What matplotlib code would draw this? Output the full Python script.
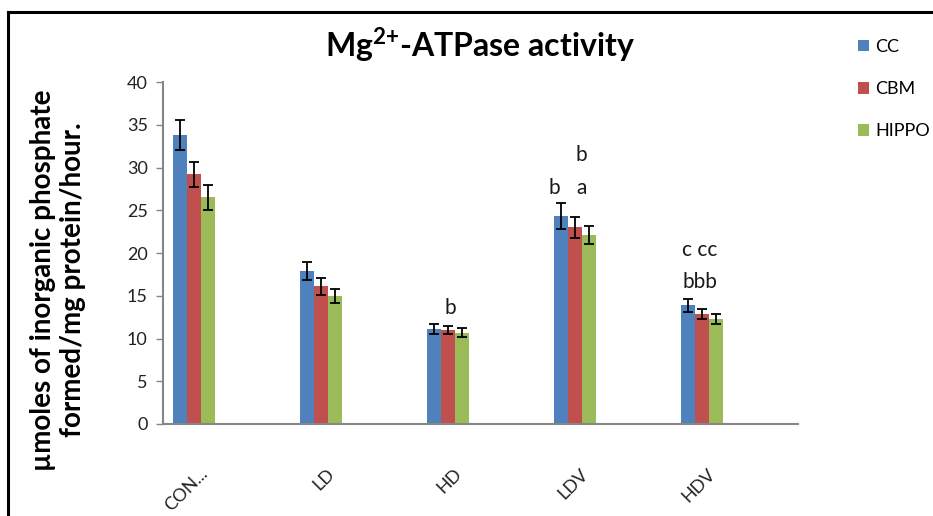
import matplotlib

matplotlib.use("Agg")
import matplotlib.pyplot as plt
import numpy as np
from matplotlib.lines import Line2D
from matplotlib.patches import Patch

plt.rcParams["font.family"] = ["Lato", "DejaVu Sans"]
plt.rcParams["mathtext.fontset"] = "custom"
plt.rcParams["mathtext.rm"] = "Lato"
plt.rcParams["mathtext.bf"] = "Lato:bold"

categories = ["CON...", "LD", "HD", "LDV", "HDV"]
series_names = ["CC", "CBM", "HIPPO"]
cc = [33.8, 17.9, 11.1, 24.3, 13.9]
cbm = [29.2, 16.1, 11.0, 23.0, 12.9]
hippo = [26.5, 15.0, 10.7, 22.1, 12.3]
cc_err = [1.8, 1.0, 0.55, 1.5, 0.75]
cbm_err = [1.5, 1.0, 0.5, 1.2, 0.6]
hippo_err = [1.45, 0.8, 0.5, 1.1, 0.6]
colors = ["#4F81BD", "#C0504D", "#9BBB59"]

# significance letters: (text, x in category units, y in data units)
letters = [
    ("b", 2.02, 13.6),
    ("b", 2.84, 27.6),
    ("a", 3.05, 27.6),
    ("b", 3.05, 31.5),
    ("bbb", 3.98, 16.6),
    ("c cc", 3.98, 20.4),
]

fig = plt.figure(figsize=(9.33, 5.16), dpi=100)
ax = fig.add_axes([163 / 933, 1 - 424 / 516, 635 / 933, 342 / 516])

x = np.arange(len(categories))
width = 0.11
for i, (vals, errs) in enumerate(zip([cc, cbm, hippo], [cc_err, cbm_err, hippo_err])):
    ax.bar(
        x + (i - 1) * width,
        vals,
        width,
        yerr=errs,
        color=colors[i],
        error_kw={"elinewidth": 1.3, "capsize": 3.6, "capthick": 1.3, "ecolor": "black"},
        zorder=2,
    )

for text, tx, ty in letters:
    ax.text(tx, ty, text, ha="center", va="center", fontsize=15, color="#1a1a1a")

ax.set_xlim(-0.244, 4.756)
ax.set_ylim(0, 40)
ax.set_yticks(np.arange(0, 41, 5))
ax.set_xticks(x + 0.04)
ax.set_xticklabels(categories, rotation=45, ha="right", rotation_mode="anchor",
                   fontsize=13, color="#222222")
ax.tick_params(axis="x", length=0, pad=30)
ax.tick_params(axis="y", length=5, width=1, color="#868686", labelsize=13,
               labelcolor="#222222", pad=6)
for side in ["top", "right"]:
    ax.spines[side].set_visible(False)
for side in ["left", "bottom"]:
    ax.spines[side].set_color("#868686")
    ax.spines[side].set_linewidth(1.5)

fig.text(480.5 / 933, 1 - 45 / 516, r"Mg$^{\mathbf{2{+}}}$-ATPase activity",
         ha="center", va="center", fontsize=23, fontweight="bold")

fig.text(58 / 933, 1 - 280 / 516,
         "\u00b5moles of inorganic phosphate\nformed/mg protein/hour.",
         ha="center", va="center", rotation=90, fontsize=20, fontweight="bold",
         linespacing=1.2)

handles = [Patch(facecolor=c, edgecolor="none") for c in colors]
fig.legend(handles, series_names, loc="upper left",
           bbox_to_anchor=(849 / 933, 1 - 30 / 516), frameon=False,
           fontsize=13, handlelength=0.6, handleheight=0.6, handletextpad=0.35,
           labelspacing=1.45, borderpad=0)

fig.add_artist(Line2D([8 / 933, 8 / 933], [0, 1 - 12 / 516], color="black",
                      linewidth=2.2, transform=fig.transFigure))
fig.add_artist(Line2D([8 / 933, 1], [1 - 12 / 516, 1 - 12 / 516], color="black",
                      linewidth=2.2, transform=fig.transFigure))

fig.savefig("out.png", dpi=100)
